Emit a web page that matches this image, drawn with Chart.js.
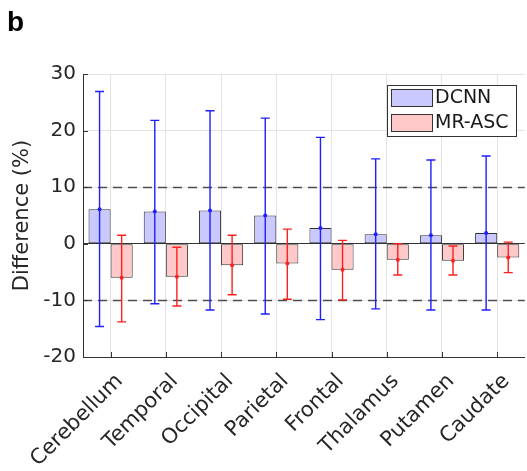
<!DOCTYPE html>
<html>
<head>
<meta charset="utf-8">
<script src="https://cdn.jsdelivr.net/npm/chart.js@4.4.0/dist/chart.umd.min.js"></script>
<style>
html, body { margin: 0; padding: 0; background: #fff; }
#wrap { width: 527px; height: 471px; position: relative; }
</style>
</head>
<body>
<div id="wrap"><canvas id="myChart"></canvas></div>
<script>
// values (%)
const regions = ['Cerebellum', 'Temporal', 'Occipital', 'Parietal', 'Frontal', 'Thalamus', 'Putamen', 'Caudate'];
const dcnnMean = [6.1, 5.7, 5.9, 5.0, 2.8, 1.7, 1.5, 1.9];
const dcnnLow  = [-14.6, -10.6, -11.7, -12.4, -13.4, -11.5, -11.7, -11.7];
const dcnnHigh = [26.9, 21.8, 23.5, 22.2, 18.8, 15.0, 14.8, 15.5];
const ascMean  = [-6.0, -5.8, -3.8, -3.5, -4.6, -2.8, -3.0, -2.4];
const ascLow   = [-13.8, -11.0, -9.0, -9.8, -9.9, -5.5, -5.5, -5.1];
const ascHigh  = [1.5, -0.6, 1.5, 2.6, 0.6, 0.0, -0.4, 0.3];
const yTicks = [-20, -10, 0, 10, 20, 30];
const refLines = [10, -10];

const FONT = "'DejaVu Sans', sans-serif";
const blueFill = '#c9c9ff';
const redFill = '#ffc9c9';

const extras = {
    id: 'extras',
    afterDatasetsDraw(chart) {
        const ctx = chart.ctx;
        const x = chart.scales.x, y = chart.scales.y, area = chart.chartArea;
        ctx.save();

        // dashed +-10 lines
        ctx.strokeStyle = '#4d4d4d';
        ctx.lineWidth = 1.3;
        ctx.setLineDash([9, 6]);
        refLines.forEach((v) => {
            const py = Math.round(y.getPixelForValue(v)) + 0.5;
            ctx.beginPath();
            ctx.moveTo(area.left, py);
            ctx.lineTo(area.right, py);
            ctx.stroke();
        });
        ctx.setLineDash([]);

        // inward tick marks
        ctx.strokeStyle = '#333';
        ctx.lineWidth = 1;
        regions.forEach((r, i) => {
            const px = Math.round(x.getPixelForValue(i)) + 0.5;
            ctx.beginPath();
            ctx.moveTo(px, area.bottom);
            ctx.lineTo(px, area.bottom - 5);
            ctx.stroke();
        });
        yTicks.forEach((v) => {
            const py = Math.round(y.getPixelForValue(v)) + 0.5;
            ctx.beginPath();
            ctx.moveTo(area.left, py);
            ctx.lineTo(area.left + 5, py);
            ctx.stroke();
        });

        // error bars
        const errs = [[dcnnLow, dcnnHigh, '#1f1fff'], [ascLow, ascHigh, '#ff1f1f']];
        errs.forEach(([lo, hi, col], di) => {
            const meta = chart.getDatasetMeta(di);
            meta.data.forEach((bar, i) => {
                const px = bar.x;
                const y1 = y.getPixelForValue(lo[i]);
                const y2 = y.getPixelForValue(hi[i]);
                ctx.strokeStyle = col;
                ctx.lineWidth = 1.4;
                ctx.beginPath();
                ctx.moveTo(px, y1); ctx.lineTo(px, y2);
                ctx.moveTo(px - 4.5, y1); ctx.lineTo(px + 4.5, y1);
                ctx.moveTo(px - 4.5, y2); ctx.lineTo(px + 4.5, y2);
                ctx.stroke();
                ctx.fillStyle = col;
                ctx.beginPath();
                ctx.arc(px, bar.y, 2, 0, Math.PI * 2);
                ctx.fill();
            });
        });

        // legend inside the axes
        const ds = chart.data.datasets;
        ctx.fillStyle = '#fff';
        ctx.fillRect(387, 85, 129, 51);
        ctx.strokeStyle = '#333';
        ctx.lineWidth = 1;
        ctx.strokeRect(387.5, 85.5, 129, 51);
        ds.forEach((d, i) => {
            const top = 89 + i * 25;
            ctx.fillStyle = d.backgroundColor;
            ctx.fillRect(391, top, 41, 17);
            ctx.strokeStyle = '#333';
            ctx.strokeRect(391.5, top + 0.5, 41, 17);
            ctx.fillStyle = '#1a1a1a';
            ctx.font = '19px ' + FONT;
            ctx.textBaseline = 'middle';
            ctx.textAlign = 'left';
            ctx.fillText(d.label, 435, top + 9);
        });

        // panel letter
        ctx.fillStyle = '#000';
        ctx.font = "bold 28px 'Liberation Sans', Arial, sans-serif";
        ctx.textBaseline = 'alphabetic';
        ctx.fillText('b', 7, 31);
        ctx.restore();
    }
};

const data = {
    labels: regions,
    datasets: [
        {
            label: 'DCNN',
            data: dcnnMean,
            backgroundColor: blueFill,
            borderColor: '#333',
            borderWidth: 1,
            borderSkipped: false
        },
        {
            label: 'MR-ASC',
            data: ascMean,
            backgroundColor: redFill,
            borderColor: '#333',
            borderWidth: 1,
            borderSkipped: false
        }
    ]
};

const config = {
    type: 'bar',
    data: data,
    options: {
        responsive: true,
        maintainAspectRatio: false,
        animation: false,
        layout: { padding: { top: 74, right: 0, left: 0, bottom: 0 } },
        datasets: { bar: { categoryPercentage: 0.8, barPercentage: 1 } },
        plugins: { legend: { display: false }, tooltip: { enabled: false } },
        scales: {
            x: {
                offset: true,
                grid: { offset: false, color: '#e3e3e3', drawTicks: false },
                border: { color: '#333' },
                ticks: {
                    minRotation: 45, maxRotation: 45,
                    padding: 12, labelOffset: 9,
                    color: '#262626',
                    font: { family: FONT, size: 21 }
                },
                afterFit(s) { s.height = 114; }
            },
            y: {
                min: -20, max: 30,
                afterBuildTicks(s) { s.ticks = yTicks.map((v) => ({ value: v })); },
                grid: {
                    drawTicks: false,
                    color: (c) => (c.tick && c.tick.value === 0 ? '#333' : '#e3e3e3')
                },
                border: { color: '#333' },
                ticks: {
                    padding: 7,
                    color: '#262626',
                    font: { family: FONT, size: 20 }
                },
                title: {
                    display: true,
                    text: 'Difference (%)',
                    color: '#262626',
                    font: { family: FONT, size: 21 },
                    padding: { top: 10, bottom: 0 }
                },
                afterFit(s) { s.width = 83; }
            }
        }
    },
    plugins: [extras]
};

const myChart = new Chart(document.getElementById('myChart'), config);
</script>
</body>
</html>
